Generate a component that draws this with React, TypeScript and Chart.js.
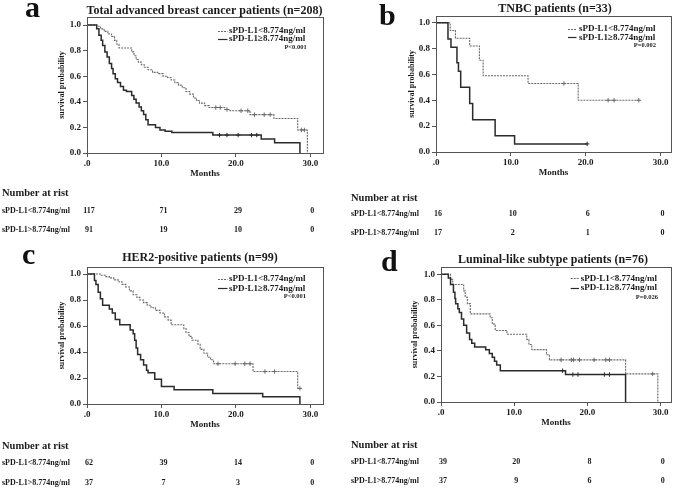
import React, { useEffect, useRef } from "react";
import { Chart, registerables } from "chart.js";
Chart.register(...registerables);

const FONT = '"Liberation Serif", "Times New Roman", serif';
const X_TICKS = [0, 10, 20, 30];
const Y_TICKS = [0, 0.2, 0.4, 0.6, 0.8, 1.0];
const LEGEND_LOW = "sPD-L1<8.774ng/ml";
const LEGEND_HIGH = "sPD-L1\u22658.774ng/ml";
const RISK_LOW = "sPD-L1<8.774ng/ml";
const RISK_HIGH = "sPD-L1>8.774ng/ml";
const RISK_HEADER = "Number at rist";

// ---- Panel a: Total advanced breast cancer patients ----
const aLowT = [0, 1.3, 1.8, 2.3, 2.8, 3.3, 3.7, 4.0, 4.3, 6.0, 6.3, 6.6, 6.9, 7.3, 7.7, 8.2, 8.8, 9.5, 10.2, 10.8, 11.3, 11.8, 12.3, 12.8, 13.3, 13.8, 14.3, 14.7, 15.1, 15.8, 16.4, 18.5, 19.2, 21.9, 25.1, 28.3, 29.6];
const aLowS = [1.0, 0.99, 0.97, 0.95, 0.93, 0.91, 0.88, 0.85, 0.82, 0.79, 0.76, 0.73, 0.71, 0.69, 0.67, 0.65, 0.63, 0.62, 0.6, 0.59, 0.57, 0.55, 0.53, 0.51, 0.48, 0.46, 0.43, 0.41, 0.39, 0.37, 0.355, 0.34, 0.33, 0.3, 0.27, 0.18, 0.0];
const aLowCens = [17.3, 17.9, 18.8, 20.7, 21.6, 22.5, 23.8, 24.6, 28.8, 29.2];
const aHighT = [0, 1.3, 1.6, 1.9, 2.1, 2.4, 2.7, 3.0, 3.3, 3.5, 3.8, 4.1, 4.5, 4.9, 5.3, 6.0, 6.3, 6.6, 7.0, 7.3, 7.6, 7.9, 8.2, 9.2, 9.8, 10.5, 11.4, 16.9, 23.4, 25.2, 28.6];
const aHighS = [1.0, 0.97, 0.92, 0.88, 0.84, 0.79, 0.75, 0.7, 0.66, 0.62, 0.58, 0.55, 0.52, 0.49, 0.48, 0.45, 0.42, 0.39, 0.36, 0.33, 0.3, 0.26, 0.22, 0.2, 0.18, 0.17, 0.16, 0.14, 0.11, 0.08, 0.0];
const aHighCens = [17.8, 18.8, 20.3, 22.1, 22.8];
const aRiskLow = [117, 71, 29, 0];
const aRiskHigh = [91, 19, 10, 0];

// ---- Panel b: TNBC patients ----
const bLowT = [0, 1.9, 2.6, 4.5, 5.8, 6.3, 12.3, 19.0, 27.1];
const bLowS = [1.0, 0.94, 0.88, 0.82, 0.71, 0.59, 0.53, 0.4, 0.4];
const bLowCens = [17.1, 23.0, 23.8, 27.1];
const bHighT = [0, 1.6, 2.0, 2.8, 3.0, 3.3, 4.5, 4.9, 7.9, 10.5, 20.2];
const bHighS = [1.0, 0.875, 0.81, 0.69, 0.625, 0.5, 0.375, 0.25, 0.125, 0.0625, 0.0625];
const bHighCens = [20.2];
const bRiskLow = [16, 10, 6, 0];
const bRiskHigh = [17, 2, 1, 0];

// ---- Panel c: HER2-positive patients ----
const cLowT = [0, 1.8, 2.5, 3.0, 3.6, 4.2, 4.7, 5.2, 5.7, 6.2, 6.7, 7.1, 7.6, 8.1, 8.6, 9.2, 9.8, 10.4, 10.9, 11.3, 13.0, 13.3, 13.7, 14.1, 14.9, 15.2, 15.7, 16.2, 16.6, 17.0, 22.3, 28.3, 28.6];
const cLowS = [1.0, 0.99, 0.98, 0.97, 0.955, 0.94, 0.92, 0.9, 0.87, 0.84, 0.82, 0.8, 0.78, 0.76, 0.74, 0.72, 0.7, 0.67, 0.645, 0.61, 0.58, 0.55, 0.52, 0.49, 0.46, 0.42, 0.39, 0.36, 0.34, 0.31, 0.25, 0.12, 0.12];
const cLowCens = [17.6, 19.9, 21.2, 21.9, 23.9, 25.2, 28.6];
const cHighT = [0, 1.0, 1.2, 1.5, 1.8, 2.1, 3.0, 3.4, 3.8, 4.4, 5.8, 6.2, 6.4, 6.6, 6.8, 7.2, 7.6, 8.0, 8.2, 9.1, 10.0, 11.7, 16.9, 23.6, 28.6];
const cHighS = [1.0, 0.95, 0.92, 0.86, 0.81, 0.76, 0.73, 0.7, 0.65, 0.61, 0.57, 0.54, 0.49, 0.43, 0.38, 0.34, 0.3, 0.26, 0.24, 0.19, 0.135, 0.11, 0.08, 0.055, 0.0];
const cHighCens: number[] = [];
const cRiskLow = [62, 39, 14, 0];
const cRiskHigh = [37, 7, 3, 0];

// ---- Panel d: Luminal-like subtype patients ----
const dLowT = [0, 1.3, 1.6, 3.1, 3.3, 3.6, 4.0, 6.7, 7.0, 7.4, 9.0, 11.7, 12.0, 12.4, 14.4, 14.8, 25.2, 29.6];
const dLowS = [1.0, 0.96, 0.92, 0.87, 0.82, 0.77, 0.69, 0.66, 0.61, 0.56, 0.53, 0.49, 0.45, 0.41, 0.37, 0.33, 0.22, 0.0];
const dLowCens = [16.4, 17.8, 18.1, 18.9, 20.9, 22.5, 23.0, 28.9];
const dHighT = [0, 1.0, 1.3, 1.7, 1.9, 2.0, 2.3, 2.5, 2.8, 3.1, 3.5, 3.9, 4.2, 4.6, 6.1, 6.6, 7.0, 7.3, 7.6, 8.1, 17.0, 25.2];
const dHighS = [1.0, 0.97, 0.92, 0.86, 0.81, 0.77, 0.73, 0.7, 0.65, 0.6, 0.54, 0.49, 0.46, 0.43, 0.41, 0.38, 0.35, 0.32, 0.29, 0.245, 0.215, 0.0];
const dHighCens = [16.6, 18.0, 18.7, 22.3, 23.0];
const dRiskLow = [39, 20, 8, 0];
const dRiskHigh = [37, 9, 6, 0];

type Pt = { x: number; y: number };

function toPoints(t: number[], s: number[]): Pt[] {
  return t.map((x, i) => ({ x, y: s[i] }));
}
function survAt(t: number[], s: number[], at: number): number {
  let v = s[0];
  for (let i = 0; i < t.length; i++) if (t[i] <= at) v = s[i];
  return v;
}

const PANELS = [
  {
    id: "a", title: "Total advanced breast cancer patients (n=208)", p: "P<0.001",
    lowT: aLowT, lowS: aLowS, lowC: aLowCens, highT: aHighT, highS: aHighS, highC: aHighCens,
    riskLow: aRiskLow, riskHigh: aRiskHigh,
    box: { left: 0, top: 0 },
    lay: { padL: 55, padR: 15, padT: 17, padB: 65, yMax: 1.0625, xMax: 31.7, yTitlePad: 2 },
    letter: { x: 25, y: 17 }, titlePos: { x: 204.5, y: 10.7 },
    leg: { sx1: 218, sx2: 227.5, tx: 229, y1: 30.5, y2: 39, pR: 306.7, pY: 47.3 },
    tab: { x: 2, hy: 193.3, y1: 210.7, y2: 230 },
  },
  {
    id: "b", title: "TNBC patients (n=33)", p: "P=0.002",
    lowT: bLowT, lowS: bLowS, lowC: bLowCens, highT: bHighT, highS: bHighS, highC: bHighCens,
    riskLow: bRiskLow, riskHigh: bRiskHigh,
    box: { left: 338, top: 0 },
    lay: { padL: 66, padR: 3, padT: 16, padB: 66, yMax: 1.052, xMax: 31.4, yTitlePad: 3 },
    letter: { x: 41, y: 25 }, titlePos: { x: 217, y: 9 },
    leg: { sx1: 230, sx2: 238.5, tx: 241, y1: 28.5, y2: 37.3, pR: 318, pY: 45.5 },
    tab: { x: 13, hy: 198.3, y1: 214.3, y2: 232.7 },
  },
  {
    id: "c", title: "HER2-positive patients (n=99)", p: "P<0.001",
    lowT: cLowT, lowS: cLowS, lowC: cLowCens, highT: cHighT, highS: cHighS, highC: cHighCens,
    riskLow: cRiskLow, riskHigh: cRiskHigh,
    box: { left: 0, top: 244 },
    lay: { padL: 55, padR: 15, padT: 23, padB: 58, yMax: 1.054, xMax: 31.7, yTitlePad: 2 },
    letter: { x: 22, y: 20 }, titlePos: { x: 200, y: 14.3 },
    leg: { sx1: 218, sx2: 227.5, tx: 229, y1: 35, y2: 44.3, pR: 306, pY: 52.7 },
    tab: { x: 2, hy: 202.7, y1: 219.3, y2: 238.7 },
  },
  {
    id: "d", title: "Luminal-like subtype patients (n=76)", p: "P=0.026",
    lowT: dLowT, lowS: dLowS, lowC: dLowCens, highT: dHighT, highS: dHighS, highC: dHighCens,
    riskLow: dRiskLow, riskHigh: dRiskHigh,
    box: { left: 338, top: 244 },
    lay: { padL: 71, padR: 5, padT: 23, padB: 60, yMax: 1.057, xMax: 31.4, yTitlePad: 1 },
    letter: { x: 43, y: 27 }, titlePos: { x: 215, y: 16 },
    leg: { sx1: 232.7, sx2: 241, tx: 242.7, y1: 34.3, y2: 43.7, pR: 320, pY: 53.3 },
    tab: { x: 13, hy: 201, y1: 217.7, y2: 237 },
  },
];

const LOW_COLOR = "#6a6a6a";
const HIGH_COLOR = "#2b2b2b";
const AXIS_COLOR = "#555";
const TEXT_COLOR = "#1a1a1a";

function Panel({ cfg }: { cfg: (typeof PANELS)[number] }) {
  const ref = useRef<HTMLCanvasElement | null>(null);
  useEffect(() => {
    if (!ref.current) return;
    const overlay = {
      id: "overlay" + cfg.id,
      afterDraw(chart: any) {
        const ctx = chart.ctx as CanvasRenderingContext2D;
        const ca = chart.chartArea;
        ctx.save();
        // frame
        ctx.strokeStyle = AXIS_COLOR;
        ctx.lineWidth = 1;
        ctx.strokeRect(Math.round(ca.left) + 0.5, Math.round(ca.top) + 0.5, Math.round(ca.right - ca.left), Math.round(ca.bottom - ca.top));
        ctx.fillStyle = "#111";
        // letter
        ctx.font = `bold 30px ${FONT}`;
        ctx.textAlign = "left";
        ctx.textBaseline = "alphabetic";
        ctx.fillText(cfg.id, cfg.letter.x, cfg.letter.y);
        // title
        ctx.fillStyle = TEXT_COLOR;
        ctx.font = `bold 12px ${FONT}`;
        ctx.textAlign = "center";
        ctx.textBaseline = "middle";
        ctx.fillText(cfg.title, cfg.titlePos.x, cfg.titlePos.y);
        // legend
        const L = cfg.leg;
        ctx.lineWidth = 1;
        ctx.strokeStyle = LOW_COLOR;
        ctx.setLineDash([2, 1]);
        ctx.beginPath();
        ctx.moveTo(L.sx1, Math.round(L.y1) + 0.5);
        ctx.lineTo(L.sx2, Math.round(L.y1) + 0.5);
        ctx.stroke();
        ctx.setLineDash([]);
        ctx.strokeStyle = HIGH_COLOR;
        ctx.lineWidth = 1.2;
        ctx.beginPath();
        ctx.moveTo(L.sx1, Math.round(L.y2) + 0.5);
        ctx.lineTo(L.sx2, Math.round(L.y2) + 0.5);
        ctx.stroke();
        ctx.font = `bold 9px ${FONT}`;
        ctx.textAlign = "left";
        ctx.fillText(LEGEND_LOW, L.tx, L.y1);
        ctx.fillText(LEGEND_HIGH, L.tx, L.y2);
        ctx.font = `bold 6.5px ${FONT}`;
        ctx.textAlign = "right";
        ctx.fillText(cfg.p, L.pR, L.pY);
        // risk table
        const T = cfg.tab;
        const xs = chart.scales.x;
        ctx.textAlign = "left";
        ctx.font = `bold 10.5px ${FONT}`;
        ctx.fillText(RISK_HEADER, T.x, T.hy);
        ctx.font = `bold 8px ${FONT}`;
        ctx.fillText(RISK_LOW, T.x, T.y1);
        ctx.fillText(RISK_HIGH, T.x, T.y2);
        ctx.textAlign = "center";
        X_TICKS.forEach((tv, i) => {
          const px = xs.getPixelForValue(tv) + 2;
          ctx.fillText(String(cfg.riskLow[i]), px, T.y1);
          ctx.fillText(String(cfg.riskHigh[i]), px, T.y2);
        });
        ctx.restore();
      },
    };
    const axisFont = { family: FONT, size: 9, weight: "bold" as const };
    const chart = new Chart(ref.current, {
      type: "line",
      data: {
        datasets: [
          {
            label: LEGEND_HIGH,
            data: toPoints(cfg.highT, cfg.highS),
            stepped: "before",
            borderColor: HIGH_COLOR,
            borderWidth: 1.5,
            pointRadius: 0,
            fill: false,
          } as any,
          {
            label: LEGEND_LOW,
            data: toPoints(cfg.lowT, cfg.lowS),
            stepped: "before",
            borderColor: LOW_COLOR,
            borderWidth: 1.1,
            borderDash: [2, 1],
            pointRadius: 0,
            fill: false,
          } as any,
          {
            type: "scatter",
            label: "censored high",
            data: cfg.highC.map((t) => ({ x: t, y: survAt(cfg.highT, cfg.highS, t) })),
            pointStyle: "cross",
            pointRadius: 2.2,
            borderColor: HIGH_COLOR,
            borderWidth: 1,
            showLine: false,
          } as any,
          {
            type: "scatter",
            label: "censored low",
            data: cfg.lowC.map((t) => ({ x: t, y: survAt(cfg.lowT, cfg.lowS, t) })),
            pointStyle: "cross",
            pointRadius: 2.2,
            borderColor: LOW_COLOR,
            borderWidth: 1,
            showLine: false,
          } as any,
        ],
      },
      options: {
        animation: false,
        responsive: false,
        devicePixelRatio: 1,
        events: [],
        layout: { padding: { left: cfg.lay.padL, right: cfg.lay.padR, top: cfg.lay.padT, bottom: cfg.lay.padB } },
        plugins: { legend: { display: false }, tooltip: { enabled: false }, title: { display: false } },
        scales: {
          x: {
            type: "linear",
            min: 0,
            max: cfg.lay.xMax,
            afterFit: (s: any) => { s.height = 26; },
            afterBuildTicks: (s: any) => { s.ticks = X_TICKS.map((v) => ({ value: v })); },
            grid: { display: true, drawOnChartArea: false, drawTicks: true, tickLength: 4, color: AXIS_COLOR },
            border: { display: true, color: AXIS_COLOR },
            ticks: {
              autoSkip: false, maxRotation: 0, padding: 1, color: TEXT_COLOR, font: axisFont,
              callback: (v: any) => (Number(v) === 0 ? ".0" : Number(v).toFixed(1)),
            },
            title: { display: true, text: "Months", color: TEXT_COLOR, font: axisFont, padding: { top: 0, bottom: 0 } },
          },
          y: {
            type: "linear",
            min: 0,
            max: cfg.lay.yMax,
            afterFit: (s: any) => { s.width = 32; },
            afterBuildTicks: (s: any) => { s.ticks = Y_TICKS.map((v) => ({ value: v })); },
            grid: { display: true, drawOnChartArea: false, drawTicks: true, tickLength: 4, color: AXIS_COLOR },
            border: { display: true, color: AXIS_COLOR },
            ticks: {
              autoSkip: false, padding: 2, color: TEXT_COLOR, font: axisFont,
              callback: (v: any) => Number(v).toFixed(1),
            },
            title: {
              display: true, text: "survival probability", color: TEXT_COLOR,
              font: { family: FONT, size: 8, weight: "bold" as const },
              padding: { top: cfg.lay.yTitlePad, bottom: 0 },
            },
          },
        },
      } as any,
      plugins: [overlay],
    });
    return () => chart.destroy();
  }, [cfg]);
  return (
    <canvas
      ref={ref}
      width={338}
      height={244}
      style={{ position: "absolute", left: cfg.box.left, top: cfg.box.top, width: 338, height: 244 }}
    />
  );
}

export default function App() {
  return (
    <div style={{ position: "fixed", left: 0, top: 0, width: 676, height: 488, background: "#fff", overflow: "hidden" }}>
      {PANELS.map((p) => (
        <Panel key={p.id} cfg={p} />
      ))}
    </div>
  );
}
